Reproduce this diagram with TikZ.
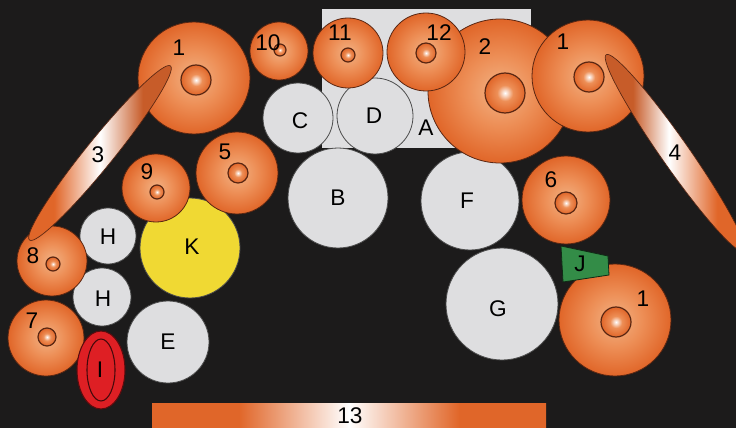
\documentclass[tikz,border=0pt]{standalone}
\usepackage{fontspec}
\setmainfont{Liberation Sans}
\usetikzlibrary{shadings}

\definecolor{bgcol}{rgb}{0.11, 0.105, 0.105}
\definecolor{orEdge}{rgb}{0.88, 0.40, 0.16}
\definecolor{orMid}{rgb}{0.93, 0.56, 0.34}
\definecolor{orHi}{rgb}{0.95, 0.70, 0.52}
\definecolor{orDark}{rgb}{0.78, 0.36, 0.16}
\definecolor{balline}{rgb}{0.35, 0.15, 0.07}
\definecolor{grayfill}{rgb}{0.87, 0.87, 0.88}
\definecolor{grayline}{rgb}{0.30, 0.30, 0.30}
\definecolor{kyellow}{rgb}{0.94, 0.85, 0.20}
\definecolor{jgreen}{rgb}{0.20, 0.55, 0.28}
\definecolor{ired}{rgb}{0.87, 0.12, 0.14}

\pgfdeclareradialshading{ballshade}{\pgfpoint{0bp}{0bp}}{color(0bp)=(orHi); color(12bp)=(orMid); color(25bp)=(orEdge); color(50bp)=(orEdge)}
\pgfdeclareradialshading{coreshade}{\pgfpoint{0bp}{0bp}}{color(0bp)=(white); color(10bp)=(orMid); color(25bp)=(orEdge); color(50bp)=(orEdge)}
\pgfdeclarehorizontalshading{barshade}{100bp}{color(0bp)=(orEdge); color(36bp)=(orEdge); color(50bp)=(white); color(64bp)=(orEdge); color(100bp)=(orEdge)}
\pgfdeclarehorizontalshading{rodshade}{100bp}{color(0bp)=(orEdge); color(35bp)=(orEdge); color(50bp)=(white); color(64bp)=(orDark); color(100bp)=(orDark)}
\pgfdeclarehorizontalshading{rodshadeb}{100bp}{color(0bp)=(orDark); color(36bp)=(orDark); color(48bp)=(white); color(64bp)=(orEdge); color(100bp)=(orEdge)}

\tikzset{
  ball/.style={shade, shading=ballshade, draw=balline, line width=0.6pt},
  core/.style={shade, shading=coreshade, draw=balline, line width=0.9pt},
  grayball/.style={fill=grayfill, draw=grayline, line width=0.6pt},
  rod/.style={shade, shading=rodshade, draw=balline, line width=0.5pt},
  lbl/.style={font=\fontsize{17}{20}\selectfont, text=black, inner sep=0pt}
}

\begin{document}
\begin{tikzpicture}[x=0.75pt,y=0.75pt,yscale=-1,xscale=1]
	%Background
	\fill [bgcol] (0,0) rectangle (736,428);
	\clip (0,0) rectangle (736,428);
	
	%Shape: Rectangle A
	\fill [grayfill] (322,9) rectangle (531,148);
	%Shape: Circle C
	\draw [grayball] (298,118) circle (35);
	%Shape: Circle D
	\draw [grayball] (375,116) circle (38);
	%Shape: Circle B
	\draw [grayball] (338,198) circle (50);
	%Shape: Circle F
	\draw [grayball] (470,201) circle (49);
	%Shape: Circle G
	\draw [grayball] (502,304) circle (56);
	%Shape: Circle H
	\draw [grayball] (108,236) circle (28);
	%Shape: Circle H
	\draw [grayball] (102,297) circle (29);
	%Shape: Circle E
	\draw [grayball] (168,342) circle (41);
	%Shape: Circle K
	\draw [fill=kyellow, draw=grayline, line width=0.6pt] (190,248) circle (50);
	
	%Shape: Sphere 10
	\draw [ball] (279,51) circle (29);
	\draw [core] (280,50) circle (6);
	%Shape: Sphere 11
	\draw [ball] (348,53) circle (35);
	\draw [core] (348,55) circle (7);
	%Shape: Sphere 2
	\draw [ball] (500,91) circle (72);
	\draw [core] (505,93) circle (20);
	%Shape: Sphere 12
	\draw [ball] (426,52) circle (39);
	\draw [core] (426,53) circle (10);
	%Shape: Sphere 1 (right)
	\draw [ball] (588,76) circle (56);
	\draw [core] (589,77) circle (15);
	%Shape: Sphere 1 (left)
	\draw [ball] (194,78) circle (56);
	\draw [core] (196,80) circle (15);
	%Shape: Sphere 5
	\draw [ball] (237,173) circle (41);
	\draw [core] (238,173) circle (10);
	%Shape: Sphere 9
	\draw [ball] (156,188) circle (34);
	\draw [core] (157,192) circle (7);
	%Shape: Sphere 6
	\draw [ball] (566,200) circle (44);
	\draw [core] (566,203) circle (11);
	%Shape: Sphere 8
	\draw [ball] (52,261) circle (35);
	\draw [core] (53,264) circle (7);
	%Shape: Sphere 7
	\draw [ball] (46,338) circle (38);
	\draw [core] (47,337) circle (9);
	%Shape: Sphere 1 (bottom)
	\draw [ball] (615,320) circle (56);
	\draw [core] (616,322) circle (15);
	
	%Shape: Rod 3
	\draw [rod, shift={(100,153)}, rotate=-51] (0,0) ellipse (112 and 14);
	%Shape: Rod 4
	\draw [rod, shading=rodshadeb, shift={(675,153)}, rotate=55] (0,0) ellipse (120 and 14);
	
	%Shape: Polygon J
	\draw [fill=jgreen, draw=black!70!jgreen, line width=0.6pt] (561,246) -- (608,256) -- (609,275) -- (563,282) -- cycle;
	%Shape: Ellipse I
	\draw [fill=ired, draw=black!60!ired, line width=0.8pt] (101,370) ellipse (24 and 39);
	\draw [draw=black!70!ired, line width=0.8pt] (101,370) ellipse (14 and 31);
	
	%Shape: Bar 13
	\shade [shading=barshade] (152,403) rectangle (546,430);
	
	% Text Node
	\node [lbl] (t1a) at (179,48) {1};
	% Text Node
	\node [lbl] (t10) at (268,43) {10};
	% Text Node
	\node [lbl] (t11) at (340,33) {11};
	% Text Node
	\node [lbl] (t12) at (439,33) {12};
	% Text Node
	\node [lbl] (t2) at (485,47) {2};
	% Text Node
	\node [lbl] (t1b) at (563,42) {1};
	% Text Node
	\node [lbl] (t3) at (98,155) {3};
	% Text Node
	\node [lbl] (t4) at (675,153) {4};
	% Text Node
	\node [lbl] (t5) at (225,152) {5};
	% Text Node
	\node [lbl] (t9) at (147,172) {9};
	% Text Node
	\node [lbl] (tC) at (300,121) {C};
	% Text Node
	\node [lbl] (tD) at (374,116) {D};
	% Text Node
	\node [lbl] (tA) at (426,128) {A};
	% Text Node
	\node [lbl] (tB) at (338,198) {B};
	% Text Node
	\node [lbl] (tF) at (467,201) {F};
	% Text Node
	\node [lbl] (t6) at (551,180) {6};
	% Text Node
	\node [lbl] (tHa) at (108,237) {H};
	% Text Node
	\node [lbl] (tHb) at (103,299) {H};
	% Text Node
	\node [lbl] (tK) at (192,247) {K};
	% Text Node
	\node [lbl] (t8) at (33,256) {8};
	% Text Node
	\node [lbl] (t7) at (32,321) {7};
	% Text Node
	\node [lbl] (tE) at (168,342) {E};
	% Text Node
	\node [lbl] (tI) at (100,370) {I};
	% Text Node
	\node [lbl] (tJ) at (580,264) {J};
	% Text Node
	\node [lbl] (tG) at (498,309) {G};
	% Text Node
	\node [lbl] (t1c) at (643,299) {1};
	% Text Node
	\node [lbl] (t13) at (350,416) {13};
	
\end{tikzpicture}
\end{document}
